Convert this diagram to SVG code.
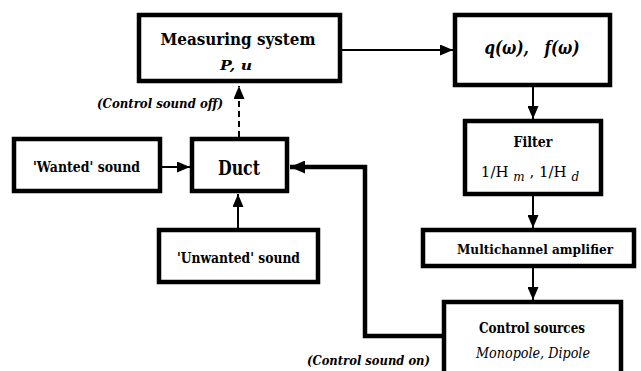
<svg xmlns="http://www.w3.org/2000/svg" width="641" height="371" viewBox="0 0 641 371">
<style>
.box{fill:#fff;stroke:#000;stroke-width:4.5}
.t{font-family:"DejaVu Serif","Liberation Serif",serif;font-weight:bold;fill:#000;text-anchor:middle}
.bi{font-family:"DejaVu Serif","Liberation Serif",serif;font-weight:bold;font-style:italic;fill:#000}
.r{font-family:"DejaVu Serif","Liberation Serif",serif;fill:#000;text-anchor:middle}
.c{fill:none;stroke:#000;stroke-width:2}
</style>
<defs>
<marker id="ah" markerUnits="userSpaceOnUse" markerWidth="13" markerHeight="11" refX="13" refY="5.5" orient="auto"><path d="M0,0 L13,5.5 L0,11 z" fill="#000"/></marker>
<marker id="ahb" markerUnits="userSpaceOnUse" markerWidth="15" markerHeight="13" refX="15" refY="6.5" orient="auto"><path d="M0,0 L15,6.5 L0,13 z" fill="#000"/></marker>
</defs>
<rect width="641" height="371" fill="#fff"/>
<g id="connectors">
<line class="c" x1="342" y1="50" x2="453" y2="50" marker-end="url(#ah)"/>
<line class="c" x1="533" y1="87" x2="533" y2="119" marker-end="url(#ah)"/>
<line class="c" x1="533" y1="196" x2="533" y2="228" marker-end="url(#ah)"/>
<line class="c" x1="533" y1="268" x2="533" y2="300" marker-end="url(#ah)"/>
<line class="c" x1="162" y1="167" x2="190" y2="167" marker-end="url(#ah)"/>
<line class="c" x1="238" y1="228" x2="238" y2="194" marker-end="url(#ah)"/>
<line class="c" x1="239" y1="137" x2="239" y2="86" stroke-dasharray="6,4" marker-end="url(#ah)"/>
<polyline points="442,336 365,336 365,167 290,167" fill="none" stroke="#000" stroke-width="4.5" marker-end="url(#ahb)"/>
<text class="bi" x="97" y="108" font-size="13" textLength="126" lengthAdjust="spacingAndGlyphs">(Control sound off)</text>
<text class="bi" x="307" y="365" font-size="13" textLength="123" lengthAdjust="spacingAndGlyphs">(Control sound on)</text>
</g>
<g id="measuring">
<rect class="box" x="139" y="15" width="201" height="66"/>
<text class="t" x="238" y="45" font-size="17" textLength="155" lengthAdjust="spacingAndGlyphs">Measuring system</text>
<text class="bi" x="236" y="70" font-size="13" text-anchor="middle" textLength="32" lengthAdjust="spacingAndGlyphs">P, u</text>
</g>
<g id="qf">
<rect class="box" x="455" y="15" width="155" height="70"/>
<text class="bi" x="532" y="54" font-size="18" text-anchor="middle" xml:space="preserve" textLength="95" lengthAdjust="spacingAndGlyphs">q(ω),   f(ω)</text>
</g>
<g id="filter">
<rect class="box" x="465" y="121" width="136" height="73"/>
<text class="t" x="533" y="147" font-size="15" textLength="39" lengthAdjust="spacingAndGlyphs">Filter</text>
<text class="r" x="530" y="177" font-size="15">1/H <tspan font-style="italic" font-size="12" dy="4">m</tspan><tspan dy="-4"> , 1/H </tspan><tspan font-style="italic" font-size="12" dy="4">d</tspan></text>
</g>
<g id="amplifier">
<rect class="box" x="423" y="230" width="211" height="36"/>
<text class="t" x="535" y="254" font-size="13.5" textLength="156" lengthAdjust="spacingAndGlyphs">Multichannel amplifier</text>
</g>
<g id="control">
<rect class="box" x="444" y="302" width="177" height="80"/>
<text class="t" x="532" y="333" font-size="15" textLength="106" lengthAdjust="spacingAndGlyphs">Control sources</text>
<text class="r" x="533" y="358" font-style="italic" font-size="14" textLength="114" lengthAdjust="spacingAndGlyphs">Monopole, Dipole</text>
</g>
<g id="wanted">
<rect class="box" x="14" y="139" width="146" height="52"/>
<text class="t" x="86.5" y="172" font-size="14" textLength="107" lengthAdjust="spacingAndGlyphs">'Wanted' sound</text>
</g>
<g id="duct">
<rect class="box" x="192" y="139" width="95" height="52"/>
<text class="t" x="239" y="175" font-size="20" textLength="42" lengthAdjust="spacingAndGlyphs">Duct</text>
</g>
<g id="unwanted">
<rect class="box" x="159" y="230" width="159" height="52"/>
<text class="t" x="238.5" y="263" font-size="14" textLength="123" lengthAdjust="spacingAndGlyphs">'Unwanted' sound</text>
</g>
</svg>
